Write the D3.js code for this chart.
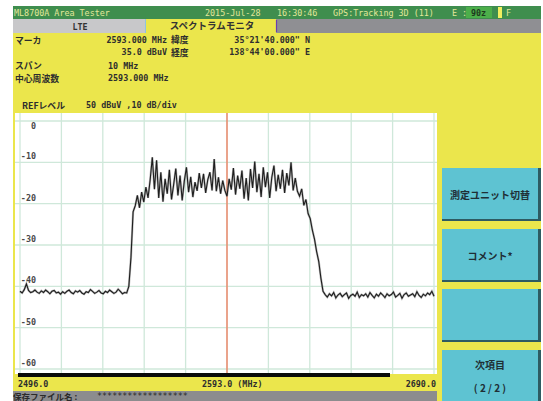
<!DOCTYPE html>
<html>
<head>
  <meta charset="UTF-8">
  <style>
    body { margin: 0; background: #fff; }
    svg { display: block; }
    .mono { font-family: "DejaVu Sans Mono", monospace; font-size: 8.4px; }
    .jp { font-family: "Noto Sans CJK JP", sans-serif; font-weight: bold; }
  </style>
</head>
<body>
<svg></svg>
<script src="https://d3js.org/d3.v7.min.js"></script>
<script>

let width = 543, height = 401;

// spectrum trace, 1 MHz steps from 2496 MHz
let freqStart = 2496, freqStep = 1;
let levels = [
  -41.2,-41.6,-40.8,-39.4,-41.0,-41.5,-41.3,-40.9,-41.4,-41.7,
  -41.1,-41.5,-40.9,-41.3,-41.8,-41.2,-41.0,-41.6,-41.4,-41.9,
  -41.3,-41.7,-41.2,-40.9,-41.5,-41.8,-41.1,-41.4,-41.0,-41.6,
  -41.9,-41.3,-41.5,-40.8,-41.2,-41.7,-41.4,-41.0,-41.6,-41.8,
  -41.2,-41.5,-40.9,-41.3,-41.7,-41.4,-40.7,-41.2,-41.8,-41.5,
  -41.6,
  -40.0,-33.0,-22.0,
  -20.5,-18.0,-21.0,-17.2,-19.6,-16.0,-18.6,-14.2,-8.8,-16.5,
  -9.5,-18.6,-12.4,-19.5,-14.0,-17.6,-11.8,-19.0,-15.4,-11.5,
  -18.0,-13.2,-19.2,-14.5,-11.2,-17.2,-13.5,-18.4,-14.8,-16.9,
  -12.6,-16.2,-12.8,-17.4,-14.2,-12.4,-16.8,-9.2,-17.0,-13.6,
  -17.6,-14.4,-16.8,-18.2,-14.0,-16.6,-11.4,-17.8,-13.2,-16.4,
  -12.0,-18.8,-13.8,-19.2,-11.6,-16.2,-9.8,-17.2,-12.8,-18.4,
  -11.2,-16.0,-12.4,-18.6,-13.6,-10.8,-17.0,-13.0,-16.4,-11.8,
  -17.4,-12.6,-15.6,-10.0,-16.8,-13.8,
  -17.0,-18.2,-16.4,-20.4,-19.0,-22.4,-23.6,-26.4,-28.6,-31.6,
  -34.0,-38.0,-41.2,
  -42.0,-42.6,-41.8,-42.3,-41.5,-42.8,-42.1,-41.7,-42.5,-42.0,
  -41.6,-42.9,-42.2,-41.9,-42.4,-41.4,-42.7,-42.0,-42.3,-41.8,
  -42.6,-41.5,-42.2,-42.8,-41.9,-42.4,-41.6,-42.1,-42.7,-41.8,
  -42.3,-42.0,-41.4,-42.6,-42.2,-41.7,-42.9,-42.0,-41.6,-42.4,
  -42.1,-41.8,-42.5,-41.3,-42.2,-42.7,-41.9,-42.3,-41.6,-42.0,
  -41.2,-42.4
];
let markerFreq = 2593.0;
let xGrid = [2496, 2515.4, 2534.8, 2554.2, 2573.6, 2593, 2612.4, 2631.8, 2651.2, 2670.6, 2690];
let yTicks = [0, -10, -20, -30, -40, -50, -60];
let xLabels = [
  {v: 2496, t: "2496.0", anchor: "start"},
  {v: 2593, t: "2593.0 (MHz)", anchor: "start"},
  {v: 2690, t: "2690.0", anchor: "end"}
];
let buttons = [
  {y0: 168, y1: 221, lines: ["測定ユニット切替"]},
  {y0: 229, y1: 282, lines: ["コメント*"]},
  {y0: 289, y1: 342, lines: []},
  {y0: 350, y1: 404, lines: ["次項目", "( 2 / 2 )"]}
];

let yellow = "#ebe64c", green = "#3f8e4e", cyan = "#5ec3d2";

let svg = d3.select("svg")
    .attr("width", width)
    .attr("height", height);

let x = d3.scaleLinear().domain([2496, 2690]).range([20, 434]);
let y = d3.scaleLinear().domain([0, -60]).range([121, 369]);

// screen background
svg.append("rect").attr("x", 13).attr("y", 6).attr("width", 528).attr("height", 395).attr("fill", yellow);

// header bar
svg.append("rect").attr("x", 13).attr("y", 6).attr("width", 528).attr("height", 13).attr("fill", green);
let hdr = [
  {x: 14, t: "ML8700A Area Tester"},
  {x: 205, t: "2015-Jul-28"},
  {x: 277, t: "16:30:46"},
  {x: 333, t: "GPS:Tracking 3D (11)"},
  {x: 452, t: "E :"},
  {x: 506, t: "F"}
];
svg.append("rect").attr("x", 466).attr("y", 7).attr("width", 26).attr("height", 11).attr("fill", "#4cae4a");
svg.append("rect").attr("x", 498).attr("y", 7).attr("width", 4).attr("height", 11).attr("fill", "#f2ef60");
svg.append("g").selectAll("text").data(hdr).enter().append("text")
    .attr("class", "mono")
    .attr("x", d => d.x).attr("y", 15.5)
    .attr("fill", "#e3e79a")
    .text(d => d.t);
svg.append("text").attr("class", "mono").attr("x", 471).attr("y", 15.5)
    .attr("fill", "#1e3a1e").attr("font-weight", "bold").text("90z");

// tabs
svg.append("rect").attr("x", 13).attr("y", 19).attr("width", 132).attr("height", 14).attr("fill", "#c8c8ca");
svg.append("rect").attr("x", 276).attr("y", 19).attr("width", 265).attr("height", 14).attr("fill", "#8f8f93");
svg.append("line").attr("x1", 276.5).attr("x2", 276.5).attr("y1", 20).attr("y2", 32).attr("stroke", "#6a3fb0").attr("stroke-width", 1.2);
svg.append("line").attr("x1", 145.5).attr("x2", 145.5).attr("y1", 19).attr("y2", 33).attr("stroke", "#8fc4df");
svg.append("text").attr("class", "mono").attr("x", 80).attr("y", 29.5).attr("text-anchor", "middle")
    .attr("fill", "#333").attr("font-weight", "bold").text("LTE");
svg.append("text").attr("class", "jp").attr("x", 212).attr("y", 29).attr("text-anchor", "middle")
    .attr("font-size", "9.5px").attr("fill", "#333").text("スペクトラムモニタ");

// info block
let infoJp = [
  {x: 15, y: 44, t: "マーカ"},
  {x: 171, y: 43, t: "緯度"},
  {x: 171, y: 56, t: "経度"},
  {x: 15, y: 69, t: "スパン"},
  {x: 15, y: 82, t: "中心周波数"},
  {x: 22, y: 109, t: "REFレベル"}
];
svg.append("g").selectAll("text").data(infoJp).enter().append("text")
    .attr("class", "jp")
    .attr("x", d => d.x).attr("y", d => d.y)
    .attr("font-size", "8.8px").attr("fill", "#2e2e2e")
    .text(d => d.t);
let infoTxt = [
  {x: 167, y: 43, t: "2593.000 MHz", a: "end"},
  {x: 167, y: 55, t: "35.0 dBuV", a: "end"},
  {x: 310, y: 43, t: "35°21'40.000\" N", a: "end"},
  {x: 310, y: 55, t: "138°44'00.000\" E", a: "end"},
  {x: 108, y: 69, t: "10 MHz", a: "start"},
  {x: 108, y: 81, t: "2593.000 MHz", a: "start"},
  {x: 86, y: 108, t: "50 dBuV ,10 dB/div", a: "start"}
];
svg.append("g").selectAll("text").data(infoTxt).enter().append("text")
    .attr("class", "mono")
    .attr("x", d => d.x).attr("y", d => d.y)
    .attr("text-anchor", d => d.a)
    .attr("fill", "#2e2e2e").attr("font-weight", "bold")
    .text(d => d.t);

// plot area
svg.append("rect").attr("x", 15).attr("y", 113).attr("width", 422).attr("height", 261).attr("fill", "#fff");

svg.append("g").selectAll("line").data(xGrid).enter().append("line")
    .attr("x1", d => x(d)).attr("x2", d => x(d))
    .attr("y1", 113).attr("y2", 374)
    .attr("stroke", "#cfe8da").attr("stroke-width", 1.3);
svg.append("g").selectAll("line").data(yTicks).enter().append("line")
    .attr("x1", 15).attr("x2", 437)
    .attr("y1", d => y(d)).attr("y2", d => y(d))
    .attr("stroke", "#cfe8da").attr("stroke-width", 1.3);

svg.append("g").selectAll("text").data(yTicks).enter().append("text")
    .attr("class", "mono")
    .attr("x", 36)
    .attr("y", d => d == 0 ? y(d) + 8 : y(d) - 3)
    .attr("text-anchor", "end")
    .attr("fill", "#4a4a4a").attr("font-weight", "bold")
    .text(d => d);

// marker line
svg.append("line")
    .attr("x1", x(markerFreq)).attr("x2", x(markerFreq))
    .attr("y1", 113).attr("y2", 374)
    .attr("stroke", "#f0704f").attr("stroke-width", 1.2);

// trace
let line = d3.line()
    .x((d, i) => x(freqStart + i * freqStep))
    .y(d => y(d));
svg.append("path")
    .datum(levels)
    .attr("d", line)
    .attr("fill", "none")
    .attr("stroke", "#8a8a8a")
    .attr("stroke-width", 2.2)
    .attr("stroke-opacity", 0.6);
svg.append("path")
    .datum(levels)
    .attr("d", line)
    .attr("fill", "none")
    .attr("stroke", "#1e1e1e")
    .attr("stroke-width", 1.1);

// bottom bar and frequency labels
svg.append("rect").attr("x", 18).attr("y", 373).attr("width", 372).attr("height", 4).attr("fill", "#0a0a0a");
svg.append("g").selectAll("text").data(xLabels).enter().append("text")
    .attr("class", "mono")
    .attr("x", d => d.anchor == "end" ? x(d.v) + 2 : (d.v == 2593 ? 202 : 18))
    .attr("y", 387)
    .attr("text-anchor", d => d.anchor)
    .attr("fill", "#2e2e2e").attr("font-weight", "bold")
    .text(d => d.t);

svg.append("rect").attr("x", 13).attr("y", 391).attr("width", 424).attr("height", 10).attr("fill", "#8c8c8e");
svg.append("text").attr("class", "jp").attr("x", 13).attr("y", 399.5)
    .attr("font-size", "8.5px").attr("fill", "#2a2a2a").text("保存ファイル名 : ");
svg.append("text").attr("class", "mono").attr("x", 97).attr("y", 399)
    .attr("fill", "#2a2a2a").text("******************");

// soft keys
let btn = svg.append("g").selectAll("g").data(buttons).enter().append("g");
btn.append("rect")
    .attr("x", 442).attr("y", d => d.y0).attr("width", 99).attr("height", d => d.y1 - d.y0)
    .attr("fill", "#2e5b62");
btn.append("rect")
    .attr("x", 442).attr("y", d => d.y0).attr("width", 96).attr("height", d => d.y1 - d.y0 - 2)
    .attr("fill", cyan);
btn.each(function(d) {
    let g = d3.select(this);
    let n = d.lines.length;
    d.lines.forEach((t, i) => {
        let cy = n == 1 ? (d.y0 + d.y1) / 2 + 4 : d.y0 + 19 + i * 23;
        g.append("text")
            .attr("class", "jp")
            .attr("x", 490).attr("y", cy)
            .attr("text-anchor", "middle")
            .attr("font-size", "10px")
            .attr("fill", "#1f2f36")
            .text(t);
    });
});

</script>
</body>
</html>
